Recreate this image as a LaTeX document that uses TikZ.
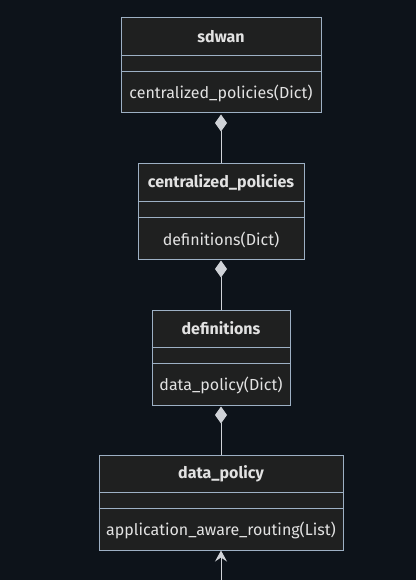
\documentclass[tikz,border=0pt]{standalone}
\usepackage{fontspec}
\setmainfont{Fira Sans}
\usepackage{tikz}
\usetikzlibrary{arrows.meta,positioning}

\definecolor{pagebg}{HTML}{0D131A}
\definecolor{boxfill}{HTML}{1F2020}
\definecolor{boxline}{HTML}{9DB0C4}
\definecolor{linkgray}{HTML}{D0D3D8}
\definecolor{txtgray}{HTML}{E2E2E2}

\begin{document}
\begin{tikzpicture}[
    x=1pt, y=-1pt,
    classbox/.style={rectangle, draw=boxline, fill=boxfill, line width=1pt, minimum height=95pt, inner sep=0pt},
    titletext/.style={text=txtgray, font=\fontsize{16}{19}\selectfont\bfseries},
    attrtext/.style={text=txtgray, font=\fontsize{16}{19}\selectfont},
    divider/.style={draw=boxline, line width=1pt},
    composition/.style={draw=linkgray, line width=1pt, -{Diamond[fill=linkgray, length=17pt, width=12pt]}},
    dependency/.style={draw=linkgray, line width=1pt, -{Stealth[length=11pt, width=12pt, inset=4pt]}}
]

% Background and page size
\fill[pagebg] (0,0) rectangle (416,580);
\useasboundingbox (0,0) rectangle (416,580);

% Classes
\node[classbox, minimum width=200pt] (sdwan) at (221,65.5) {};
\node[classbox, minimum width=166pt, below=50pt of sdwan] (cpol) {};
\node[classbox, minimum width=138pt, below=50pt of cpol] (defs) {};
\node[classbox, minimum width=244pt, below=49pt of defs] (dpol) {};

% Class names
\node[titletext] (sdwan-name) at ([yshift=-19pt]sdwan.north) {sdwan};
\node[titletext] (cpol-name) at ([yshift=-19pt]cpol.north) {centralized\_policies};
\node[titletext] (defs-name) at ([yshift=-19pt]defs.north) {definitions};
\node[titletext] (dpol-name) at ([yshift=-19pt]dpol.north) {data\_policy};

% Section lines
\draw[divider] ([yshift=-38pt]sdwan.north west) -- ([yshift=-38pt]sdwan.north east);
\draw[divider] ([yshift=-54pt]sdwan.north west) -- ([yshift=-54pt]sdwan.north east);
\draw[divider] ([yshift=-38pt]cpol.north west) -- ([yshift=-38pt]cpol.north east);
\draw[divider] ([yshift=-54pt]cpol.north west) -- ([yshift=-54pt]cpol.north east);
\draw[divider] ([yshift=-38pt]defs.north west) -- ([yshift=-38pt]defs.north east);
\draw[divider] ([yshift=-54pt]defs.north west) -- ([yshift=-54pt]defs.north east);
\draw[divider] ([yshift=-38pt]dpol.north west) -- ([yshift=-38pt]dpol.north east);
\draw[divider] ([yshift=-54pt]dpol.north west) -- ([yshift=-54pt]dpol.north east);

% Attributes
\node[attrtext] (sdwan-attr) at ([yshift=20pt]sdwan.south) {centralized\_policies(Dict)};
\node[attrtext] (cpol-attr) at ([yshift=20pt]cpol.south) {definitions(Dict)};
\node[attrtext] (defs-attr) at ([yshift=20pt]defs.south) {data\_policy(Dict)};
\node[attrtext] (dpol-attr) at ([yshift=20pt]dpol.south) {application\_aware\_routing(List)};

% Connections
\draw[composition] (cpol.north) -- ([yshift=-1pt]sdwan.south);
\draw[composition] (defs.north) -- ([yshift=-1pt]cpol.south);
\draw[composition] (dpol.north) -- ([yshift=-1pt]defs.south);
\coordinate (below-edge) at (221,582);
\draw[dependency] (below-edge) -- (dpol.south);

\end{tikzpicture}
\end{document}
